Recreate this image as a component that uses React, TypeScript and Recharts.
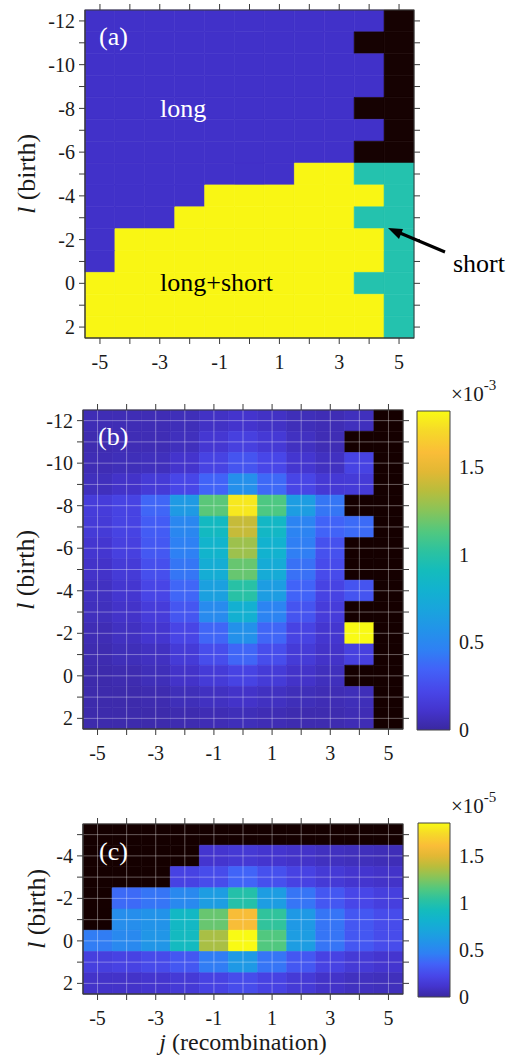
import React from "react";
import { ComposedChart, XAxis, YAxis, ReferenceArea, ReferenceLine, Bar } from "recharts";

const FONT = '"Liberation Serif", "Times New Roman", serif';
const INK = "#1a1a1a";
const FRAME = "#3a3a3a";

// column j (recombination) and row l (birth) indices
const J_VALUES = [-5, -4, -3, -2, -1, 0, 1, 2, 3, 4, 5];
const L_VALUES_AB = [-12, -11, -10, -9, -8, -7, -6, -5, -4, -3, -2, -1, 0, 1, 2];
const L_VALUES_C = [-5, -4, -3, -2, -1, 0, 1, 2];

// panel (a): 0 = long, 1 = long+short, 2 = short, 3 = none
const CLASS_COLORS = ["#4131c9", "#f9f614", "#24c2ae", "#160202"];
const CLASS_A = [
  [0, 0, 0, 0, 0, 0, 0, 0, 0, 0, 3],
  [0, 0, 0, 0, 0, 0, 0, 0, 0, 3, 3],
  [0, 0, 0, 0, 0, 0, 0, 0, 0, 0, 3],
  [0, 0, 0, 0, 0, 0, 0, 0, 0, 0, 3],
  [0, 0, 0, 0, 0, 0, 0, 0, 0, 3, 3],
  [0, 0, 0, 0, 0, 0, 0, 0, 0, 0, 3],
  [0, 0, 0, 0, 0, 0, 0, 0, 0, 3, 3],
  [0, 0, 0, 0, 0, 0, 0, 1, 1, 2, 2],
  [0, 0, 0, 0, 1, 1, 1, 1, 1, 1, 2],
  [0, 0, 0, 1, 1, 1, 1, 1, 1, 2, 2],
  [0, 1, 1, 1, 1, 1, 1, 1, 1, 1, 2],
  [0, 1, 1, 1, 1, 1, 1, 1, 1, 1, 2],
  [1, 1, 1, 1, 1, 1, 1, 1, 1, 2, 2],
  [1, 1, 1, 1, 1, 1, 1, 1, 1, 1, 2],
  [1, 1, 1, 1, 1, 1, 1, 1, 1, 1, 2],
];

// panel (b), x 1e-3, null = no data (black)
const VALUES_B = [
  [0.05, 0.05, 0.05, 0.06, 0.09, 0.11, 0.09, 0.06, 0.05, 0.07, null],
  [0.04, 0.05, 0.05, 0.07, 0.13, 0.18, 0.14, 0.08, 0.05, null, null],
  [0.05, 0.06, 0.07, 0.11, 0.2, 0.28, 0.22, 0.12, 0.08, 0.2, null],
  [0.07, 0.1, 0.15, 0.22, 0.35, 0.55, 0.37, 0.21, 0.14, 0.15, null],
  [0.16, 0.2, 0.36, 0.62, 1.15, 1.76, 1.12, 0.64, 0.42, null, null],
  [0.15, 0.2, 0.32, 0.5, 0.88, 1.4, 0.86, 0.48, 0.35, 0.38, null],
  [0.12, 0.18, 0.3, 0.46, 0.82, 1.3, 0.8, 0.45, 0.27, null, null],
  [0.1, 0.15, 0.26, 0.42, 0.76, 1.18, 0.74, 0.4, 0.24, null, null],
  [0.08, 0.12, 0.21, 0.36, 0.66, 1.0, 0.64, 0.35, 0.2, 0.28, null],
  [0.07, 0.1, 0.16, 0.29, 0.52, 0.78, 0.48, 0.28, 0.16, null, null],
  [0.05, 0.08, 0.12, 0.21, 0.36, 0.56, 0.36, 0.2, 0.12, 1.82, null],
  [0.04, 0.06, 0.08, 0.15, 0.25, 0.36, 0.25, 0.15, 0.1, 0.18, null],
  [0.03, 0.04, 0.06, 0.1, 0.15, 0.2, 0.15, 0.1, 0.07, null, null],
  [0.03, 0.03, 0.04, 0.06, 0.08, 0.1, 0.08, 0.06, 0.05, 0.06, null],
  [0.03, 0.03, 0.03, 0.04, 0.05, 0.06, 0.05, 0.04, 0.04, 0.05, null],
];

// panel (c), x 1e-5
const VALUES_C = [
  [null, null, null, null, null, null, null, null, null, null, null],
  [null, null, null, null, 0.12, 0.14, 0.12, 0.1, 0.08, 0.07, 0.06],
  [null, null, null, 0.2, 0.25, 0.36, 0.27, 0.2, 0.15, 0.12, 0.1],
  [null, 0.38, 0.42, 0.52, 0.65, 1.0, 0.65, 0.42, 0.3, 0.22, 0.18],
  [null, 0.55, 0.58, 0.88, 1.2, 1.6, 1.05, 0.62, 0.42, 0.3, 0.25],
  [0.45, 0.52, 0.6, 0.9, 1.35, 1.85, 1.15, 0.65, 0.42, 0.3, 0.25],
  [0.18, 0.2, 0.24, 0.3, 0.45, 0.62, 0.42, 0.3, 0.2, 0.15, 0.12],
  [0.1, 0.1, 0.12, 0.15, 0.2, 0.25, 0.2, 0.15, 0.1, 0.08, 0.07],
];

const CB_MAX_B = 1.82;
const CB_MAX_C = 1.85;
const CB_TICKS = [0, 0.5, 1, 1.5];
const NONE_COLOR = "#150000";

// parula-like colormap stops
const CMAP: [number, string][] = [
  [0.0, "#3a28a0"],
  [0.06, "#4434cd"],
  [0.12, "#4846e8"],
  [0.19, "#4262f8"],
  [0.25, "#2f80f4"],
  [0.31, "#2392ea"],
  [0.38, "#19a5dc"],
  [0.44, "#12b2cf"],
  [0.5, "#14bcbc"],
  [0.56, "#2cc2a0"],
  [0.62, "#50c880"],
  [0.69, "#8ac458"],
  [0.75, "#b9bd3c"],
  [0.81, "#e2b834"],
  [0.87, "#fabd38"],
  [0.94, "#f6da28"],
  [1.0, "#f9fa14"],
];

function hexToRgb(h: string) {
  return [1, 3, 5].map((i) => parseInt(h.slice(i, i + 2), 16));
}

function colormap(t: number) {
  const x = Math.max(0, Math.min(1, t));
  for (let i = 1; i < CMAP.length; i++) {
    if (x <= CMAP[i][0]) {
      const [t0, c0] = CMAP[i - 1];
      const [t1, c1] = CMAP[i];
      const f = (x - t0) / (t1 - t0);
      const a = hexToRgb(c0);
      const b = hexToRgb(c1);
      const m = a.map((v, k) => Math.round(v + (b[k] - v) * f));
      return `rgb(${m[0]},${m[1]},${m[2]})`;
    }
  }
  return CMAP[CMAP.length - 1][1];
}

const tickStyle = { fontSize: 20, fill: INK, fontFamily: FONT, style: { fontFamily: FONT } };
const oddLabel = (v: number) => (Math.abs(v) % 2 === 1 ? String(v) : "");
const evenLabel = (v: number) => (Math.abs(v) % 2 === 0 ? String(v) : "");

type Cell = { j: number; l: number; fill: string };
type Box = { left: number; top: number; right: number; bottom: number };

const J_DOMAIN = [J_VALUES[0] - 0.5, J_VALUES[J_VALUES.length - 1] + 0.5];
const TICK_LEN = 6;

function HeatPanel({ cells, lValues, height, plot, grid }: { cells: Cell[]; lValues: number[]; height: number; plot: Box; grid: boolean }) {
  const lDomain = [lValues[0] - 0.5, lValues[lValues.length - 1] + 0.5];
  const axisCommon = { stroke: FRAME, tickSize: TICK_LEN, interval: 0 as const };
  const ref = { xAxisId: "j", yAxisId: "l" };
  return (
    <ComposedChart width={513} height={height} data={cells}
      margin={{ top: plot.top, right: 513 - plot.right, bottom: height - plot.bottom - 40, left: 0 }}>
      <XAxis xAxisId="j" type="number" dataKey="j" domain={J_DOMAIN} ticks={J_VALUES} tickFormatter={oddLabel}
        tick={tickStyle} tickMargin={11} height={40} {...axisCommon} />
      <YAxis yAxisId="l" type="number" dataKey="l" domain={lDomain} reversed ticks={lValues} tickFormatter={evenLabel}
        tick={tickStyle} tickMargin={4} width={plot.left} {...axisCommon} />
      {cells.map((c) => (
        <ReferenceArea key={`${c.j}_${c.l}`} {...ref} x1={c.j - 0.5} x2={c.j + 0.5} y1={c.l - 0.5} y2={c.l + 0.5}
          fill={c.fill} fillOpacity={1} stroke={c.fill} strokeWidth={0.6} ifOverflow="visible" />
      ))}
      {grid && J_VALUES.map((j) => (
        <ReferenceLine key={`gx${j}`} {...ref} x={j} stroke="#ffffff" strokeOpacity={0.35} strokeWidth={1} />
      ))}
      {grid && lValues.map((l) => (
        <ReferenceLine key={`gy${l}`} {...ref} y={l} stroke="#ffffff" strokeOpacity={0.35} strokeWidth={1} />
      ))}
    </ComposedChart>
  );
}

// box with outward ticks on the top and right sides (same linear mapping as the chart axes)
function Frame({ plot, offsetY, lValues }: { plot: Box; offsetY: number; lValues: number[] }) {
  const top = plot.top + offsetY;
  const bottom = plot.bottom + offsetY;
  const l0 = lValues[0] - 0.5;
  const l1 = lValues[lValues.length - 1] + 0.5;
  const px = (j: number) => plot.left + ((j - J_DOMAIN[0]) / (J_DOMAIN[1] - J_DOMAIN[0])) * (plot.right - plot.left);
  const py = (l: number) => top + ((l - l0) / (l1 - l0)) * (bottom - top);
  return (
    <g stroke={FRAME} strokeWidth={1} fill="none">
      <rect x={plot.left} y={top} width={plot.right - plot.left} height={bottom - top} />
      {J_VALUES.map((j) => (
        <line key={`t${j}`} x1={px(j)} x2={px(j)} y1={top} y2={top - TICK_LEN} />
      ))}
      {lValues.map((l) => (
        <line key={`r${l}`} x1={plot.right} x2={plot.right + TICK_LEN} y1={py(l)} y2={py(l)} />
      ))}
    </g>
  );
}

function ColorBar({ id, max, height, margin }: { id: string; max: number; height: number; margin: { top: number; right: number; bottom: number; left: number } }) {
  const data = [{ name: "cb", v: max }];
  return (
    <ComposedChart width={113} height={height} margin={margin} data={data} barCategoryGap={0} barGap={0}>
      <defs>
        <linearGradient id={id} x1="0" y1="1" x2="0" y2="0">
          {CMAP.map(([t, c]) => (
            <stop key={t} offset={`${t * 100}%`} stopColor={c} />
          ))}
        </linearGradient>
      </defs>
      <XAxis dataKey="name" type="category" hide />
      <YAxis orientation="right" type="number" domain={[0, max]} ticks={CB_TICKS} interval={0} axisLine={false}
        tickLine={false} tickSize={0} tickMargin={9} tick={tickStyle} width={58} />
      <Bar dataKey="v" fill={`url(#${id})`} stroke="#444" strokeWidth={1} isAnimationActive={false} />
    </ComposedChart>
  );
}

export default function App() {
  const cellsA: Cell[] = [];
  L_VALUES_AB.forEach((l, r) => J_VALUES.forEach((j, c) => cellsA.push({ j, l, fill: CLASS_COLORS[CLASS_A[r][c]] })));
  const cellsB: Cell[] = [];
  L_VALUES_AB.forEach((l, r) =>
    J_VALUES.forEach((j, c) => {
      const v = VALUES_B[r][c];
      cellsB.push({ j, l, fill: v == null ? NONE_COLOR : colormap(v / CB_MAX_B) });
    })
  );
  const cellsC: Cell[] = [];
  L_VALUES_C.forEach((l, r) =>
    J_VALUES.forEach((j, c) => {
      const v = VALUES_C[r][c];
      cellsC.push({ j, l, fill: v == null ? NONE_COLOR : colormap(v / CB_MAX_C) });
    })
  );

  const abs = (left: number, top: number): React.CSSProperties => ({ position: "absolute", left, top });
  const ts: React.CSSProperties = { fontFamily: FONT };

  const plotA: Box = { left: 85, top: 10, right: 414, bottom: 338 };
  const plotB: Box = { left: 83, top: 20, right: 403, bottom: 339 };
  const plotC: Box = { left: 83, top: 24, right: 403, bottom: 194 };

  return (
    <div style={{ position: "absolute", left: 0, top: 0, width: 513, height: 1055, background: "#fff", fontFamily: FONT }}>
      <div style={abs(0, 0)}>
        <HeatPanel cells={cellsA} lValues={L_VALUES_AB} height={380} plot={plotA} grid={false} />
      </div>
      <div style={abs(0, 390)}>
        <HeatPanel cells={cellsB} lValues={L_VALUES_AB} height={380} plot={plotB} grid />
      </div>
      <div style={abs(400, 390)}>
        <ColorBar id="cbB" max={CB_MAX_B} height={380} margin={{ top: 21, right: 5, bottom: 40, left: 17 }} />
      </div>
      <div style={abs(0, 800)}>
        <HeatPanel cells={cellsC} lValues={L_VALUES_C} height={255} plot={plotC} grid />
      </div>
      <div style={abs(400, 800)}>
        <ColorBar id="cbC" max={CB_MAX_C} height={255} margin={{ top: 23, right: 5, bottom: 58, left: 18 }} />
      </div>

      <svg width={513} height={1055} style={{ position: "absolute", left: 0, top: 0, pointerEvents: "none" }}>
        <Frame plot={plotA} offsetY={0} lValues={L_VALUES_AB} />
        <Frame plot={plotB} offsetY={390} lValues={L_VALUES_AB} />
        <Frame plot={plotC} offsetY={800} lValues={L_VALUES_C} />

        <text x={99} y={45} fontSize={26} fill="#fff" style={ts}>(a)</text>
        <text x={160} y={117} fontSize={26} fill="#fff" style={ts}>long</text>
        <text x={160} y={291} fontSize={26} fill="#000" style={ts}>long+short</text>
        <text x={453} y={272} fontSize={26} fill="#000" style={ts}>short</text>
        <line x1={445} y1={252} x2={400} y2={233} stroke="#000" strokeWidth={3} />
        <polygon points="388,228 403,229 399,239" fill="#000" />

        <text x={98} y={445} fontSize={26} fill="#fff" style={ts}>(b)</text>
        <text x={99} y={860} fontSize={26} fill="#fff" style={ts}>(c)</text>

        <text x={451} y={401} fontSize={21} fill={INK} style={ts}>×10<tspan dy={-11} fontSize={15}>-3</tspan></text>
        <text x={451} y={813} fontSize={21} fill={INK} style={ts}>×10<tspan dy={-11} fontSize={15}>-5</tspan></text>

        <text transform="translate(35,174) rotate(-90)" textAnchor="middle" fontSize={26} fill={INK} style={ts}>
          <tspan fontStyle="italic">l</tspan> (birth)
        </text>
        <text transform="translate(34,570) rotate(-90)" textAnchor="middle" fontSize={26} fill={INK} style={ts}>
          <tspan fontStyle="italic">l</tspan> (birth)
        </text>
        <text transform="translate(45,909) rotate(-90)" textAnchor="middle" fontSize={26} fill={INK} style={ts}>
          <tspan fontStyle="italic">l</tspan> (birth)
        </text>
        <text x={243} y={1050} textAnchor="middle" fontSize={24} fill={INK} style={ts}>
          <tspan fontStyle="italic">j</tspan> (recombination)
        </text>
      </svg>
    </div>
  );
}
